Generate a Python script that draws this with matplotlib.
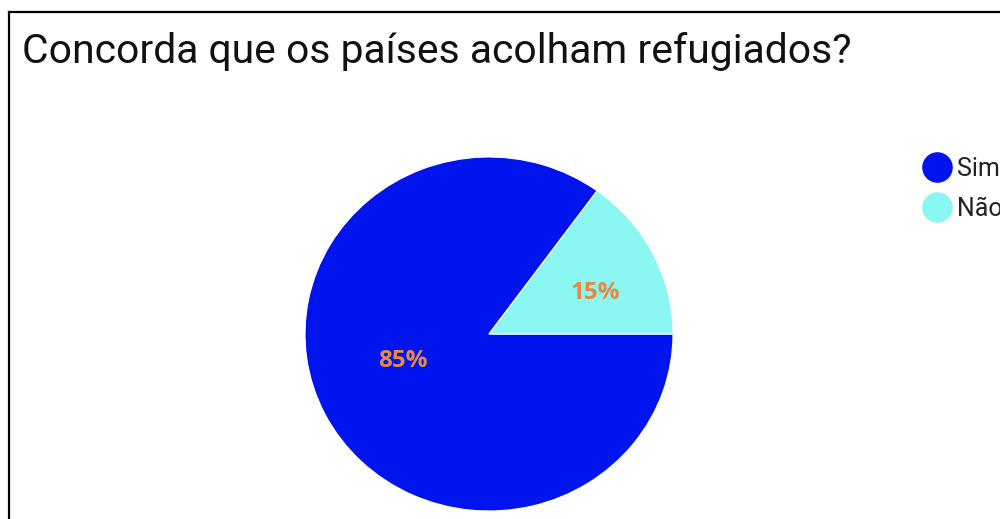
import matplotlib.pyplot as plt
from matplotlib.lines import Line2D

# survey answers
labels = ['Sim', 'Não']
shares = [85, 15]
colors = ['#0014EE', '#8AF7F3']
pct_color = '#E8893F'

W, H = 1000, 519
fig = plt.figure(figsize=(W / 100, H / 100), dpi=100)
fig.patch.set_facecolor('white')

# pie sits in a box 368 x 354 px centred at (489, 334)
cx, cy, rx, ry = 489, 334, 184, 177
ax = fig.add_axes([(cx - rx) / W, (H - cy - ry) / H, 2 * rx / W, 2 * ry / H])
wedges, _, autotexts = ax.pie(
    shares, colors=colors, startangle=0, counterclock=False,
    autopct='%1.0f%%', pctdistance=0.55,
    wedgeprops=dict(edgecolor='white', linewidth=0.8),
    textprops=dict(color=pct_color, fontsize=17.5, fontweight='bold', family='Open Sans'),
)
ax.set_aspect('auto')
ax.set_xlim(-1, 1)
ax.set_ylim(-1, 1)
ax.axis('off')

# label spots inside each slice
label_pos = [(-0.47, -0.15), (0.58, 0.23)]
for t, p in zip(autotexts, label_pos):
    t.set_position(p)
    t.set_ha('center')
    t.set_va('center')

# title
fig.text(22 / W, 1 - 63 / H, 'Concorda que os países acolham refugiados?',
         fontsize=29.4, family='Roboto', color='#111111', va='baseline', ha='left')

# legend on the right (runs past the right edge)
handles = [Line2D([], [], marker='o', linestyle='', markersize=21, color=c) for c in colors]
fig.legend(handles, labels, loc='upper left', bbox_to_anchor=(912 / W, 1 - 144 / H),
           frameon=False, prop=dict(family='Roboto', size=18),
           handlelength=1.0, handletextpad=0.3, labelspacing=0.66, borderpad=0,
           labelcolor='#222222')

# frame lines along the left and top
fig.add_artist(Line2D([9 / W, 9 / W], [0, 1 - 12 / H], color='black', linewidth=1.6,
                      transform=fig.transFigure))
fig.add_artist(Line2D([9 / W, 1], [1 - 12 / H, 1 - 12 / H], color='black', linewidth=1.6,
                      transform=fig.transFigure))

fig.savefig('out.png', dpi=100)
